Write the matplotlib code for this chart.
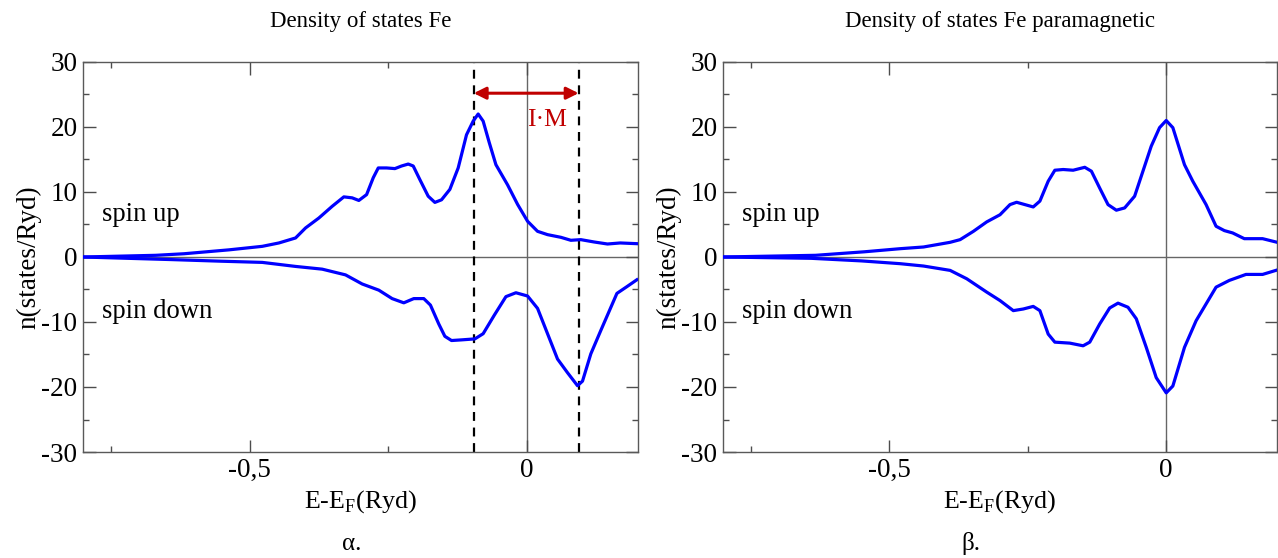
import numpy as np
import matplotlib
matplotlib.use("Agg")
import matplotlib.pyplot as plt
from matplotlib.ticker import FixedLocator, MultipleLocator

plt.rcParams['font.family'] = ['Liberation Serif', 'DejaVu Serif']

# ferromagnetic Fe, spin up / spin down  (E-EF in Ryd, n in states/Ryd)
fe_up_x = [-0.800, -0.669, -0.618, -0.537, -0.477, -0.447, -0.417, -0.399, -0.375, -0.351,
           -0.330, -0.315, -0.303, -0.289, -0.277, -0.268, -0.253, -0.238, -0.226, -0.214,
           -0.205, -0.193, -0.178, -0.166, -0.154, -0.139, -0.124, -0.109, -0.097, -0.088,
           -0.079, -0.068, -0.056, -0.035, -0.017, 0.001, 0.019, 0.037, 0.061, 0.079,
           0.097, 0.121, 0.145, 0.168, 0.198]
fe_up_y = [0.0, 0.26, 0.5, 1.1, 1.64, 2.16, 2.93, 4.47, 6.0, 7.8,
           9.25, 9.1, 8.7, 9.6, 12.2, 13.7, 13.7, 13.6, 14.0, 14.3,
           14.0, 11.9, 9.35, 8.4, 8.8, 10.4, 13.7, 18.8, 20.9, 22.0,
           20.9, 17.6, 14.2, 11.1, 8.1, 5.5, 3.95, 3.44, 3.03, 2.57,
           2.67, 2.31, 2.0, 2.16, 2.05]

fe_dn_x = [-0.800, -0.640, -0.550, -0.477, -0.417, -0.369, -0.327, -0.297, -0.267, -0.243,
           -0.222, -0.204, -0.186, -0.174, -0.159, -0.148, -0.136, -0.118, -0.094, -0.079,
           -0.059, -0.038, -0.020, 0.001, 0.019, 0.037, 0.055, 0.073, 0.091, 0.100,
           0.115, 0.133, 0.162, 0.180, 0.198]
fe_dn_y = [0.0, -0.4, -0.65, -0.83, -1.45, -1.87, -2.75, -4.15, -5.1, -6.4,
           -7.05, -6.4, -6.4, -7.4, -10.3, -12.2, -12.85, -12.75, -12.6, -11.8,
           -8.96, -6.1, -5.5, -6.0, -7.9, -11.8, -15.7, -17.8, -19.8, -19.1,
           -14.9, -11.3, -5.6, -4.56, -3.5]

# paramagnetic Fe
pm_up_x = [-0.800, -0.633, -0.545, -0.480, -0.438, -0.390, -0.372, -0.348, -0.324, -0.300,
           -0.282, -0.270, -0.255, -0.240, -0.228, -0.213, -0.201, -0.186, -0.168, -0.147,
           -0.135, -0.120, -0.105, -0.090, -0.075, -0.057, -0.042, -0.027, -0.012, 0.000,
           0.012, 0.033, 0.048, 0.072, 0.090, 0.105, 0.120, 0.141, 0.174, 0.198]
pm_up_y = [0.0, 0.26, 0.8, 1.28, 1.54, 2.26, 2.67, 3.95, 5.4, 6.5,
           8.06, 8.42, 8.06, 7.7, 8.6, 11.66, 13.35, 13.46, 13.35, 13.8,
           13.2, 10.6, 8.06, 7.2, 7.55, 9.35, 13.2, 17.05, 19.9, 21.0,
           19.9, 14.2, 11.66, 8.06, 4.73, 4.06, 3.7, 2.82, 2.82, 2.31]

pm_dn_x = [-0.800, -0.641, -0.550, -0.480, -0.438, -0.390, -0.360, -0.324, -0.300, -0.276,
           -0.258, -0.240, -0.228, -0.213, -0.201, -0.174, -0.150, -0.138, -0.120, -0.102,
           -0.087, -0.069, -0.054, -0.036, -0.018, 0.000, 0.012, 0.033, 0.054, 0.090,
           0.114, 0.144, 0.174, 0.198]
pm_dn_y = [0.0, -0.2, -0.6, -1.03, -1.39, -2.06, -3.35, -5.4, -6.7, -8.25,
           -8.0, -7.6, -8.25, -11.86, -13.1, -13.25, -13.66, -13.1, -10.3, -7.84,
           -7.1, -7.73, -9.5, -13.9, -18.56, -20.9, -19.85, -13.9, -9.8, -4.64,
           -3.6, -2.68, -2.68, -2.06]

xticks = [-0.5, 0]
xtick_labels = ["-0,5", "0"]
yticks = [-30, -20, -10, 0, 10, 20, 30]
ytick_labels = ["-30", "-20", "-10", "0", "10", "20", "30"]

split_lo, split_hi = -0.096, 0.093   # I*M exchange splitting

fig = plt.figure(figsize=(12.78, 5.58), dpi=100)
ax1 = fig.add_axes([83/1278, 1-452/558, 555/1278, 390/558])
ax2 = fig.add_axes([723/1278, 1-452/558, 554/1278, 390/558])

def style(ax, title, sub, subx):
    ax.set_xlim(-0.8, 0.2)
    ax.set_ylim(-30, 30)
    ax.axhline(0, color='0.4', lw=1.0, zorder=1)
    ax.axvline(0, color='0.4', lw=1.0, zorder=1)
    ax.xaxis.set_major_locator(FixedLocator(xticks))
    ax.set_xticklabels(xtick_labels)
    ax.xaxis.set_minor_locator(FixedLocator([-0.75, -0.25]))
    ax.set_yticks(yticks)
    ax.set_yticklabels(ytick_labels)
    ax.yaxis.set_minor_locator(MultipleLocator(5))
    ax.tick_params(which='both', direction='in', top=True, right=True, labelsize=19.5,
                   pad=4, color='0.3')
    ax.tick_params(which='major', length=9, width=1)
    ax.tick_params(which='minor', length=4.5, width=1)
    for s in ax.spines.values():
        s.set_linewidth(1.0)
        s.set_color('0.35')
    ax.set_title(title, fontsize=16.5, pad=25)
    ax.set_xlabel("E-E$_\\mathregular{F}$(Ryd)", fontsize=18.7, labelpad=4)
    ax.set_ylabel("n(states/Ryd)", fontsize=19.5, labelpad=0)
    ax.text(-0.765, 6.6, "spin up", fontsize=19.2, va='center')
    ax.text(-0.765, -8.4, "spin down", fontsize=19.2, va='center')
    ax.text(subx, -0.235, sub, transform=ax.transAxes, fontsize=18, ha='center', va='center')

style(ax1, "Density of states Fe", "α.", 0.485)
style(ax2, "Density of states Fe paramagnetic", "β.", 0.447)

ax1.plot(fe_up_x, fe_up_y, color='#0000ff', lw=2.3, solid_joinstyle='round', zorder=3)
ax1.plot(fe_dn_x, fe_dn_y, color='#0000ff', lw=2.3, solid_joinstyle='round', zorder=3)
ax2.plot(pm_up_x, pm_up_y, color='#0000ff', lw=2.3, solid_joinstyle='round', zorder=3)
ax2.plot(pm_dn_x, pm_dn_y, color='#0000ff', lw=2.3, solid_joinstyle='round', zorder=3)

for xv in (split_lo, split_hi):
    ax1.axvline(xv, color='black', lw=1.6, ls=(0, (4, 3)), zorder=2)
ax1.annotate("", xy=(split_lo, 25.2), xytext=(split_hi, 25.2),
             arrowprops=dict(arrowstyle='<|-|>', color='#c00000', lw=2.2,
                             shrinkA=0, shrinkB=0, mutation_scale=18))
ax1.text(0.036, 21.0, "I·M", color='#c00000', fontsize=18.5, ha='center', va='center')

fig.savefig("out.png", dpi=100)
